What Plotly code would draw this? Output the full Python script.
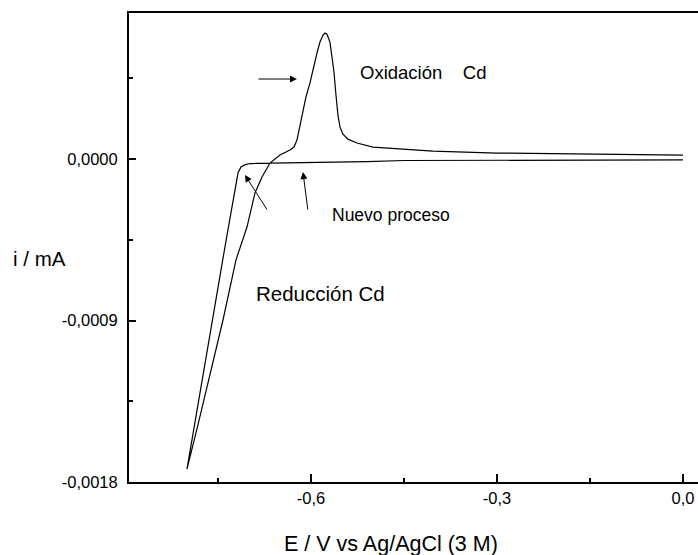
import plotly.graph_objects as go

# Cyclic voltammogram: cathodic sweep from 0 V down to -0.80 V
E_cathodic = [0.0, -0.15, -0.30, -0.45, -0.5097, -0.6177, -0.698, -0.706, -0.713,
              -0.7177, -0.7258, -0.734, -0.7424, -0.7534, -0.770, -0.7755, -0.7892, -0.800]
i_cathodic = [-0.000005, -0.000006, -0.000008, -0.000008, -0.000014, -0.0000195, -0.000025,
              -0.000031, -0.0000446, -0.000078, -0.000228, -0.000396, -0.000563, -0.000786,
              -0.00112, -0.00123, -0.00151, -0.001728]

# Anodic return sweep from -0.80 V back to 0 V (Cd stripping peak)
E_anodic = [-0.800, -0.7823, -0.7645, -0.7419, -0.7210, -0.7032, -0.6903, -0.6790, -0.6661,
            -0.6500, -0.6339, -0.6274, -0.6226, -0.6177, -0.6129, -0.6081, -0.6016, -0.5952,
            -0.5903, -0.5855, -0.5806, -0.5774, -0.5742, -0.5694, -0.5661, -0.5629, -0.5597,
            -0.5565, -0.5532, -0.5484, -0.5403, -0.5258, -0.5000, -0.4565, -0.4032, -0.300,
            -0.150, 0.0]
i_anodic = [-0.001728, -0.001482, -0.001232, -0.000897, -0.000563, -0.000379, -0.000189,
            -0.000100, -0.0000223, 0.0000223, 0.0000502, 0.0000669, 0.000106, 0.000189,
            0.000273, 0.000346, 0.000424, 0.000524, 0.000591, 0.000652, 0.000691, 0.000702,
            0.000696, 0.000652, 0.000568, 0.000485, 0.000357, 0.000245, 0.000178, 0.000139,
            0.000111, 0.0000892, 0.0000669, 0.0000557, 0.0000446, 0.0000334, 0.0000279,
            0.0000223]

x_tickvals = [-0.6, -0.3, 0.0]
x_ticktext = ["-0,6", "-0,3", "0,0"]
y_tickvals = [0.0, -0.0009, -0.0018]
y_ticktext = ["0,0000", "-0,0009", "-0,0018"]

FONT = "Liberation Sans, Arial, sans-serif"

fig = go.Figure()
fig.add_trace(go.Scatter(x=E_cathodic + E_anodic, y=i_cathodic + i_anodic,
                         mode="lines", line=dict(color="black", width=1.2),
                         showlegend=False, hoverinfo="skip"))

# Text labels: (text, x, y, font size)
labels = [
    ("Oxidación\u00a0\u00a0\u00a0\u00a0Cd", -0.4194, 0.000485, 18.5),
    ("Nuevo proceso", -0.471, -0.000312, 17.5),
    ("Reducción Cd", -0.5839, -0.000747, 20.5),
]
for txt, x, y, size in labels:
    fig.add_annotation(x=x, y=y, text=txt, showarrow=False,
                       font=dict(family=FONT, size=size, color="black"),
                       xanchor="center", yanchor="middle")

# Pointer arrows: (head_x, head_y, tail_x, tail_y)
arrows = [
    (-0.6226, 0.000446, -0.6871, 0.000446),
    (-0.7065, -0.0000892, -0.6694, -0.000290),
    (-0.6129, -0.0000724, -0.6048, -0.000290),
]
for hx, hy, tx, ty in arrows:
    fig.add_annotation(x=hx, y=hy, ax=tx, ay=ty, xref="x", yref="y",
                       axref="x", ayref="y", text="", showarrow=True,
                       arrowhead=2, arrowsize=1.4, arrowwidth=1, arrowcolor="black")

# Axis titles
fig.add_annotation(x=0.4605, y=-0.132, xref="paper", yref="paper",
                   text="E / V vs Ag/AgCl (3 M)", showarrow=False,
                   font=dict(family=FONT, size=21.5, color="black"),
                   xanchor="center", yanchor="middle")
fig.add_annotation(x=-0.158, y=0.4776, xref="paper", yref="paper",
                   text="i / mA", showarrow=False,
                   font=dict(family=FONT, size=20.5, color="black"),
                   xanchor="center", yanchor="middle")

fig.update_xaxes(range=[-0.8935, 0.0242], tickvals=x_tickvals, ticktext=x_ticktext,
                 ticks="inside", ticklen=8, tickwidth=1.5, tickcolor="black",
                 minor=dict(ticks="inside", ticklen=4, tickwidth=1.5, tickcolor="black",
                            tickvals=[-0.75, -0.45, -0.15]),
                 showline=True, linecolor="black", linewidth=2, mirror=True,
                 showgrid=False, zeroline=False,
                 tickfont=dict(family=FONT, size=16.5, color="black"))
fig.update_yaxes(range=[-0.0018, 0.000814], tickvals=y_tickvals, ticktext=y_ticktext,
                 ticks="inside", ticklen=7, tickwidth=1.5, tickcolor="black",
                 minor=dict(ticks="inside", ticklen=4, tickwidth=1.5, tickcolor="black",
                            tickvals=[0.00045, -0.00045, -0.00135]),
                 showline=True, linecolor="black", linewidth=2, mirror=False,
                 showgrid=False, zeroline=False, ticklabelstandoff=6,
                 tickfont=dict(family=FONT, size=16.5, color="black"))

fig.update_layout(width=698, height=555, margin=dict(l=129, r=0, t=13, b=73),
                  plot_bgcolor="white", paper_bgcolor="white")

fig.write_html("out.html")
